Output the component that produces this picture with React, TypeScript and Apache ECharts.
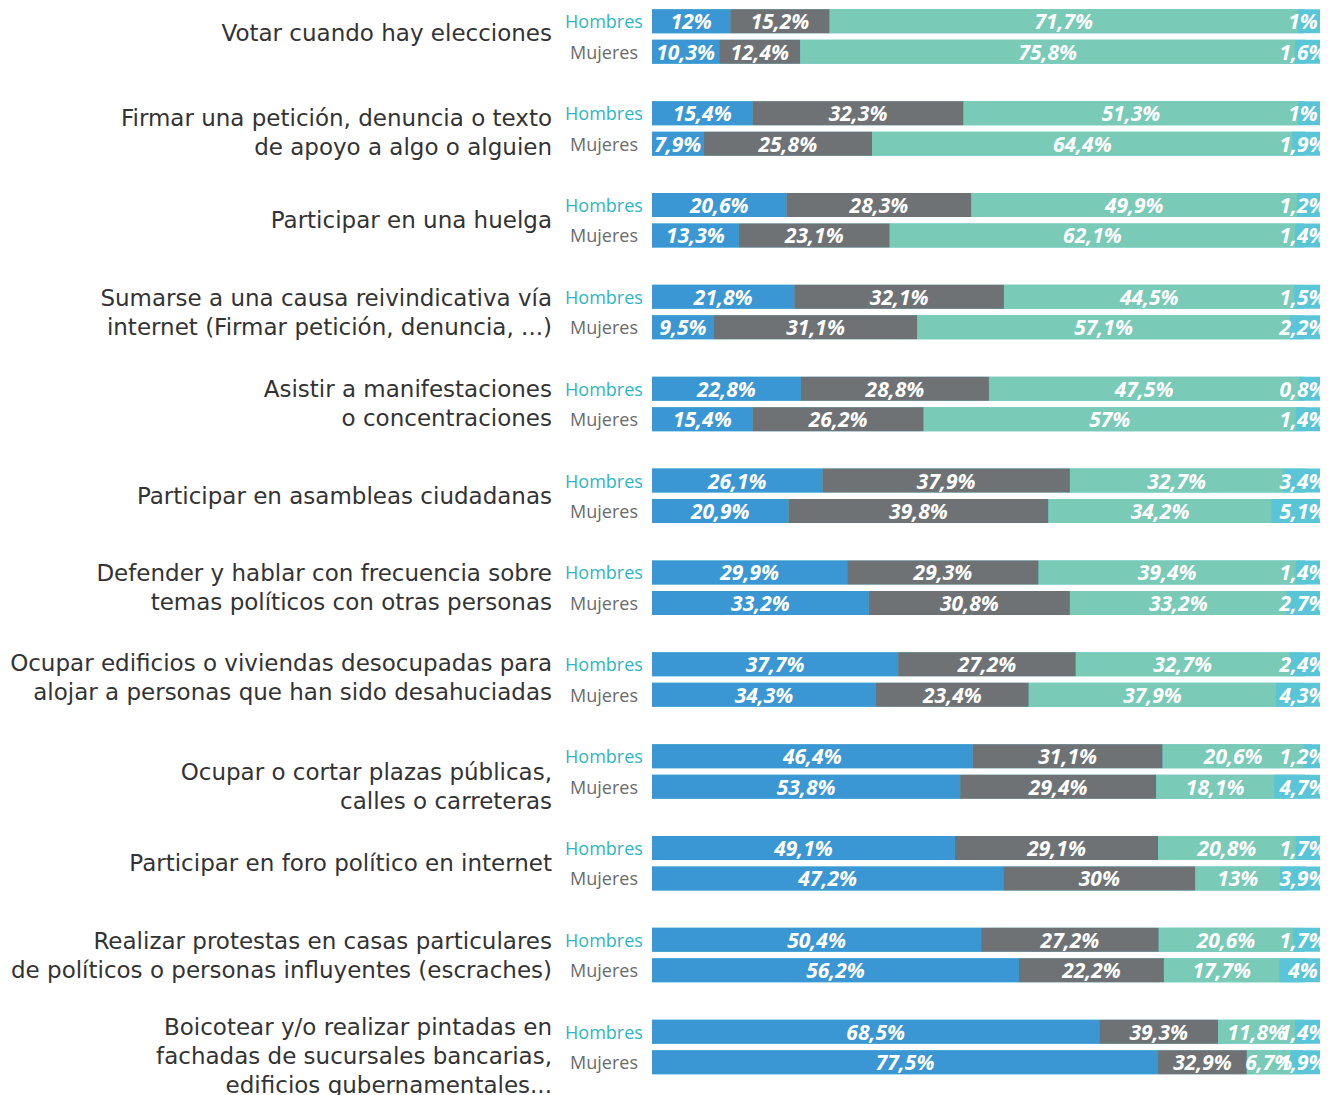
import React, { useEffect, useRef } from "react";
import * as echarts from "echarts";

const categories = [
  "Votar cuando hay elecciones",
  "Firmar una petición, denuncia o texto\nde apoyo a algo o alguien",
  "Participar en una huelga",
  "Sumarse a una causa reivindicativa vía\ninternet (Firmar petición, denuncia, ...)",
  "Asistir a manifestaciones\no concentraciones",
  "Participar en asambleas ciudadanas",
  "Defender y hablar con frecuencia sobre\ntemas políticos con otras personas",
  "Ocupar edificios o viviendas desocupadas para\nalojar a personas que han sido desahuciadas",
  "Ocupar o cortar plazas públicas,\ncalles o carreteras",
  "Participar en foro político en internet",
  "Realizar protestas en casas particulares\nde políticos o personas influyentes (escraches)",
  "Boicotear y/o realizar pintadas en\nfachadas de sucursales bancarias,\nedificios gubernamentales...",
];

const groupNames = ["Hombres", "Mujeres"];

// Printed percentages (labels)
const blueH = [12, 15.4, 20.6, 21.8, 22.8, 26.1, 29.9, 37.7, 46.4, 49.1, 50.4, 68.5];
const grayH = [15.2, 32.3, 28.3, 32.1, 28.8, 37.9, 29.3, 27.2, 31.1, 29.1, 27.2, 39.3];
const tealH = [71.7, 51.3, 49.9, 44.5, 47.5, 32.7, 39.4, 32.7, 20.6, 20.8, 20.6, 11.8];
const lightH = [1, 1, 1.2, 1.5, 0.8, 3.4, 1.4, 2.4, 1.2, 1.7, 1.7, 1.4];
const blueM = [10.3, 7.9, 13.3, 9.5, 15.4, 20.9, 33.2, 34.3, 53.8, 47.2, 56.2, 77.5];
const grayM = [12.4, 25.8, 23.1, 31.1, 26.2, 39.8, 30.8, 23.4, 29.4, 30, 22.2, 32.9];
const tealM = [75.8, 64.4, 62.1, 57.1, 57, 34.2, 33.2, 37.9, 18.1, 13, 17.7, 6.7];
const lightM = [1.6, 1.9, 1.4, 2.2, 1.4, 5.1, 2.7, 4.3, 4.7, 3.9, 4, 1.9];

// Bar lengths as drawn in the picture
const blueLenH = [12, 15.4, 20.6, 21.8, 22.8, 26.1, 29.9, 37.7, 49.1, 46.4, 50.4, 68.5];
const grayLenH = [15.2, 32.3, 28.3, 32.1, 28.8, 37.9, 29.3, 27.2, 29.1, 31.1, 27.2, 18.2];
const tealLenH = [71.7, 51.3, 49.9, 44.5, 47.5, 32.7, 39.4, 32.7, 21.6, 21.1, 20.6, 11.8];
const blueLenM = [10.3, 7.9, 13.3, 9.5, 15.4, 20.9, 33.2, 34.3, 47.2, 53.8, 56.2, 77.5];
const grayLenM = [12.4, 25.8, 23.1, 31.1, 26.2, 39.8, 30.8, 23.4, 30, 29.4, 22.2, 13.6];
const tealLenM = [75.8, 64.4, 62.1, 57.1, 57, 34.2, 33.2, 37.9, 18.1, 13, 17.7, 6.7];

const BLUE = "#3a97d3";
const GRAY = "#6e7275";
const TEAL = "#79cab7";
const LIGHT = "#5ac5d6";
const FONT = "'Open Sans', sans-serif";
const CAT_FONT = "'DejaVu Sans', sans-serif";

// vertical nudges (px) of the category names, as laid out in the picture
const labelShift = [-4, 4, 0, 0, 0, 0, 0, -2, 15, 0, 0, 9];

const fmt = (v: number) => String(v).replace(".", ",") + "%";

function buildStack(stack: string, name: string, nameColor: string, lens: number[][], labels: number[][]) {
  const colors = [BLUE, GRAY, TEAL, LIGHT];
  const base: any = {
    type: "bar",
    stack,
    barWidth: 24,
    barGap: "27%",
    silent: true,
  };
  const out: any[] = [
    {
      ...base,
      name: name + "-label",
      data: categories.map(() => 0),
      itemStyle: { color: LIGHT },
      showBackground: true,
      backgroundStyle: { color: LIGHT },
      label: {
        show: true,
        position: "left",
        distance: 48,
        align: "center",
        formatter: name,
        color: nameColor,
        fontSize: 18,
        fontFamily: FONT,
      },
    },
  ];
  lens.forEach((arr, i) => {
    const lab = labels[i];
    const s: any = {
      ...base,
      name: name + "-" + i,
      data: arr,
      itemStyle: { color: colors[i] },
      label: {
        show: true,
        position: "inside",
        color: "#ffffff",
        fontSize: 21,
        fontWeight: "bold",
        fontStyle: "italic",
        fontFamily: FONT,
        formatter: (p: any) => fmt(lab[p.dataIndex]),
      },
    };
    if (i === 3) {
      s.labelLayout = (params: any) => ({
        x: 1303,
        y: params.rect.y + params.rect.height / 2,
        align: "center",
        verticalAlign: "middle",
      });
    }
    out.push(s);
  });
  return out;
}

const rich: any = {
  n: { fontSize: 23, lineHeight: 29, fontFamily: CAT_FONT, color: "#333333" },
};
labelShift.forEach((d, i) => {
  if (d !== 0) rich["s" + i] = { fontSize: 2, lineHeight: Math.abs(d) * 2 };
});

function catFormatter(value: string, index: number) {
  const body = value
    .split("\n")
    .map((l) => "{n|" + l + "}")
    .join("\n");
  const d = labelShift[index] || 0;
  if (d > 0) return "{s" + index + "| }\n" + body;
  if (d < 0) return body + "\n{s" + index + "| }";
  return body;
}

export default function App() {
  const ref = useRef<HTMLDivElement>(null);
  useEffect(() => {
    if (!ref.current) return;
    const chart = echarts.init(ref.current, null, { renderer: "svg" });
    chart.setOption({
      animation: false,
      backgroundColor: "#ffffff",
      grid: {
        left: 652,
        right: 0,
        top: 0.6,
        bottom: 2.1,
        containLabel: false,
        outerBoundsMode: "none",
      },
      xAxis: { type: "value", min: 0, max: 102.3, show: false },
      yAxis: {
        type: "category",
        inverse: true,
        data: categories,
        axisLine: { show: false },
        axisTick: { show: false },
        splitLine: { show: false },
        axisLabel: {
          margin: 100,
          fontSize: 23,
          color: "#333333",
          fontFamily: CAT_FONT,
          lineHeight: 29,
          align: "right",
          formatter: catFormatter,
          rich,
        },
      },
      series: [
        ...buildStack("h", groupNames[0], "#2fb5c2", [blueLenH, grayLenH, tealLenH, lightH], [blueH, grayH, tealH, lightH]),
        ...buildStack("m", groupNames[1], "#6b6b6b", [blueLenM, grayLenM, tealLenM, lightM], [blueM, grayM, tealM, lightM]),
      ],
    });
    return () => chart.dispose();
  }, []);
  return (
    <div
      ref={ref}
      style={{ position: "absolute", left: 0, top: -10, width: 1320, height: 1105, overflow: "hidden" }}
    />
  );
}
